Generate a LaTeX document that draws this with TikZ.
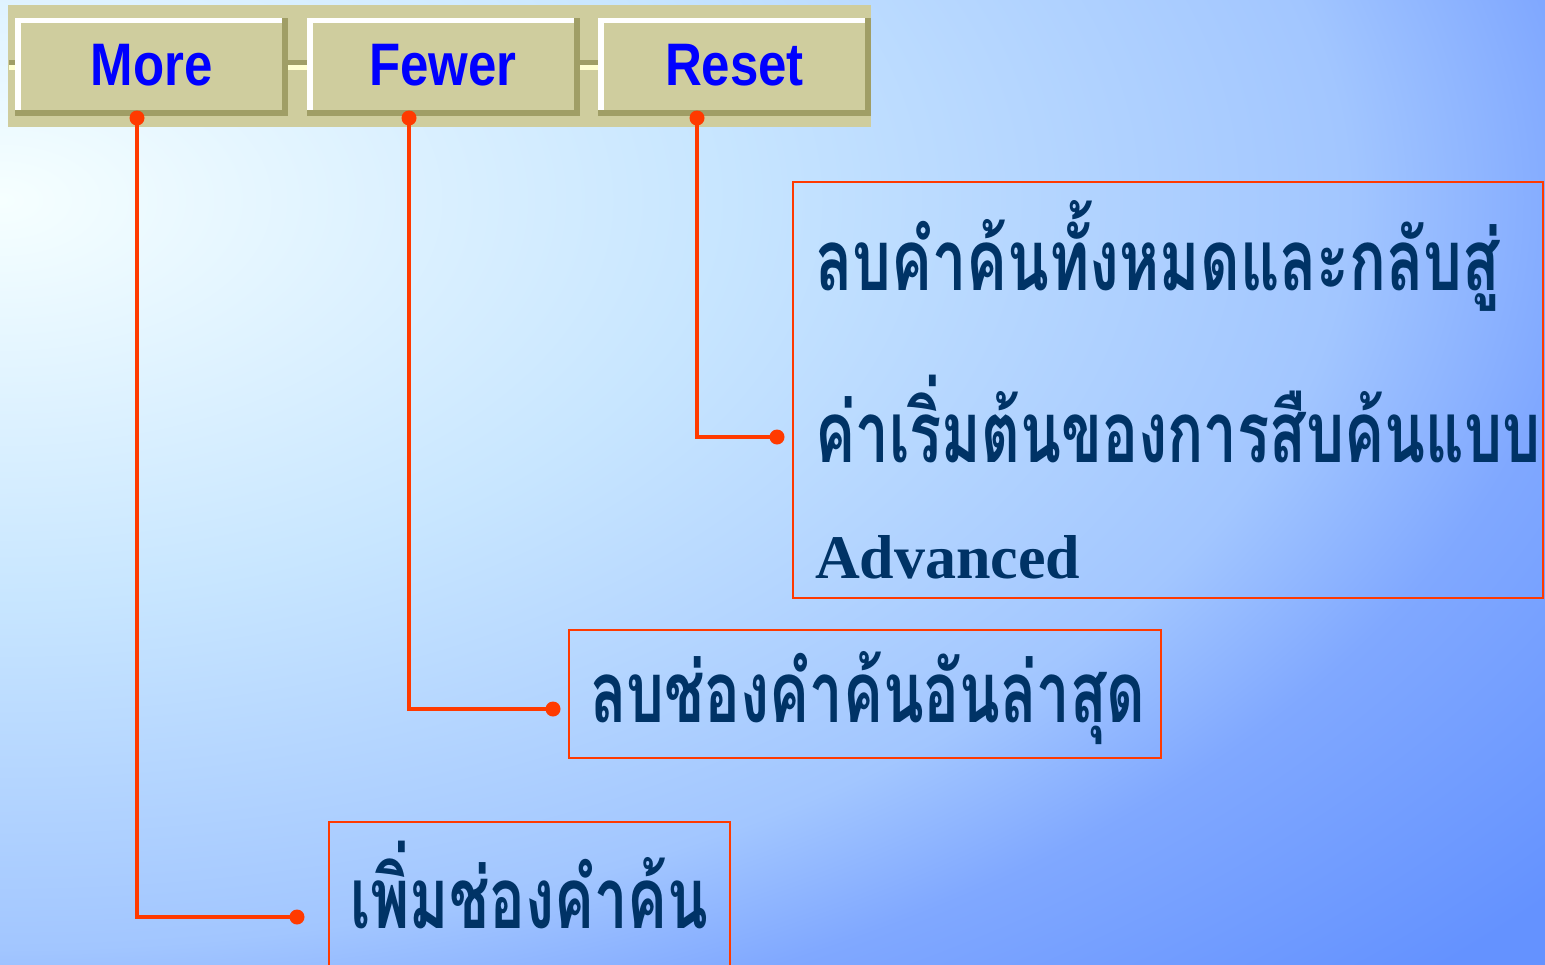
\documentclass[tikz,border=0pt]{standalone}
\usepackage{fontspec}
\usepackage{graphicx}
\setmainfont{Liberation Serif}
\newfontfamily\thaifont[Script=Thai]{Loma}
\newfontfamily\btnfont[FakeStretch=0.85]{Liberation Sans}
\definecolor{btnface}{HTML}{CFCD9E}
\definecolor{btnshadow}{HTML}{A09E66}
\definecolor{seplight}{HTML}{FFFFD0}
\definecolor{conn}{HTML}{FF3A00}
\definecolor{thaiblue}{HTML}{003366}
\definecolor{btnblue}{HTML}{0000FF}
\definecolor{bga}{HTML}{F6FFFF}
\definecolor{bgb}{HTML}{C8E6FF}
\definecolor{bgc}{HTML}{A2C6FF}
\definecolor{bgd}{HTML}{80A8FF}
\definecolor{bge}{HTML}{6492FF}
\pgfdeclareradialshading{bgshade}{\pgfpoint{0bp}{0bp}}{color(0bp)=(bga); color(11bp)=(bgb); color(20.8bp)=(bgc); color(24.4bp)=(bgd); color(30.8bp)=(bge); color(50bp)=(bge)}
\tikzset{
  btn/.style={minimum width=273pt, minimum height=98pt, inner sep=0pt, fill=btnshadow,
    text=btnblue, text height=36pt, text depth=0pt,
    font=\btnfont\bfseries\fontsize{60}{60}\selectfont,
    path picture={
      \fill[white] ([yshift=6pt]path picture bounding box.south west) rectangle ([xshift=-6pt]path picture bounding box.north east);
      \fill[btnface] ([shift={(6pt,6pt)}]path picture bounding box.south west) rectangle ([shift={(-6pt,-5pt)}]path picture bounding box.north east);
    }},
  dot/.style={circle, fill=conn, inner sep=0pt, minimum width=14pt, minimum height=15pt},
  conn/.style={draw=conn, line width=4pt},
  callout/.style={draw=conn, line width=2pt, inner sep=0pt},
  thaitext/.style={inner sep=0pt, text=thaiblue, font=\thaifont\bfseries\fontsize{85}{85}\selectfont},
  engtext/.style={inner sep=0pt, text=thaiblue, font=\bfseries\fontsize{62}{62}\selectfont}
}
\begin{document}
\begin{tikzpicture}[x=1pt,y=-1pt]
\useasboundingbox (0,0) rectangle (1545,964);
% background
\begin{scope}
\clip (0,0) rectangle (1545,964);
\shade[shading=bgshade] (-1620,-700) rectangle (1620,1100);
\end{scope}
% button bar
\fill[btnface] (8,5) rectangle (871,127);
\fill[btnshadow] (9,60) rectangle (870,65);
\fill[seplight] (9,65) rectangle (870,70);
\node[btn] (more) at (151.5,67) {More};
\node[btn] (fewer) at (443,67) {Fewer};
\node[btn] (reset) at (734.5,67) {Reset};
% callout boxes
\node[callout, minimum width=750pt, minimum height=416pt] (resetbox) at (1168,390) {};
\node[callout, minimum width=592pt, minimum height=128pt] (fewerbox) at (865,694) {};
\node[callout, minimum width=401pt, minimum height=168pt] (morebox) at (529.5,906) {};
% texts
\node[thaitext, anchor=base west] (r1) at (815,290) {\resizebox{685pt}{\height}{ลบคำค้นทั้งหมดและกลับสู่}};
\node[thaitext, anchor=base west] (r2) at (815,462) {\resizebox{725pt}{\height}{ค่าเริ่มต้นของการสืบค้นแบบ}};
\node[engtext, anchor=base west] (r3) at (815,578) {Advanced};
\node[thaitext, anchor=base west] (f1) at (590,722) {\resizebox{555pt}{\height}{ลบช่องคำค้นอันล่าสุด}};
\node[thaitext, anchor=base west] (m1) at (350,928) {\resizebox{358pt}{\height}{เพิ่มช่องคำค้น}};
% connectors
\node[dot] (mtop) at (137,118) {};
\node[dot] (ftop) at (409,118) {};
\node[dot] (rtop) at (697,118) {};
\node[dot] (mend) at (297,917) {};
\node[dot] (fend) at (553,709) {};
\node[dot] (rend) at (777,437) {};
\draw[conn] (mtop.center) |- (mend.center);
\draw[conn] (ftop.center) |- (fend.center);
\draw[conn] (rtop.center) |- (rend.center);
\end{tikzpicture}
\end{document}
